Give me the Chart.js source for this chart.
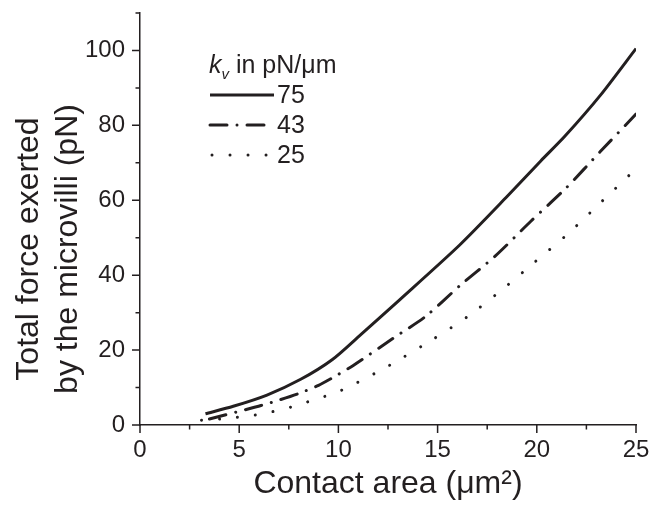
<!DOCTYPE html>
<html><head><meta charset="utf-8">
<script src="https://cdn.jsdelivr.net/npm/chart.js@4/dist/chart.umd.min.js"></script>
<style>html,body{margin:0;padding:0;background:#fff;}</style>
</head><body>
<canvas id="c" width="665" height="509"></canvas>
<script>
// ---- data ----
const seriesLabels = ['75', '43', '25'];
const x75 = [3.3, 4.7, 6.4, 8.1, 9.7, 11.1, 13.1, 16.1, 18.5, 20.2, 21.4, 23.2, 25.0];
const y75 = [3.0, 5.0, 8.0, 12.2, 17.5, 24.0, 33.5, 48.0, 61.0, 70.5, 77.0, 88.0, 100.5];
const x43 = [3.5, 5.4, 6.1, 7.1, 8.0, 9.0, 9.7, 10.75, 12.8, 14.4, 16.1, 17.9, 19.7, 21.5, 23.2, 25.0];
const y43 = [1.6, 4.2, 5.2, 6.8, 8.4, 10.6, 12.6, 15.9, 23.3, 29.0, 37.1, 45.1, 54.4, 63.4, 73.0, 83.0];
const x25 = [3.1, 4.5, 5.4, 6.2, 7.1, 7.9, 8.8, 9.7, 10.5, 12.6, 14.8, 16.5, 18.2, 19.9, 21.6, 23.3, 25.0];
const y25 = [1.3, 1.8, 2.4, 3.0, 4.1, 5.2, 6.8, 8.3, 10.1, 16.0, 23.0, 28.9, 35.9, 43.5, 51.2, 59.8, 68.4];
const xMajorTicks = [0, 5, 10, 15, 20, 25];
const xMinorTicks = [2.5, 7.5, 12.5, 17.5, 22.5];
const yMajorTicks = [0, 20, 40, 60, 80, 100];
const yMinorTicks = [10, 30, 50, 70, 90, 110];
const xTitle = 'Contact area (\u03bcm\u00b2)';
const yTitleLines = ['Total force exerted', 'by the microvilli (pN)'];
const legendHeaderK = 'k';
const legendHeaderSub = 'v';
const legendHeaderRest = ' in pN/\u03bcm';

const FONT = "'Liberation Sans', Arial, Helvetica, sans-serif";
const INK = '#231f20';

function pts(xs, ys) { return xs.map((x, i) => ({x: x, y: ys[i]})); }

const dashStyles = [[], [17, 10, 0.01, 10], [0.01, 18]];

const ticksPlugin = {
  id: 'ticksPlugin',
  afterDraw(chart) {
    const ctx = chart.ctx, xs = chart.scales.x, ys = chart.scales.y;
    const a = chart.chartArea;
    ctx.save();
    ctx.strokeStyle = INK; ctx.lineWidth = 1.5; ctx.lineCap = 'butt';
    ctx.beginPath();
    xMajorTicks.forEach(v => { const p = xs.getPixelForValue(v); ctx.moveTo(p, a.bottom); ctx.lineTo(p, a.bottom + 8); });
    xMinorTicks.forEach(v => { const p = xs.getPixelForValue(v); ctx.moveTo(p, a.bottom); ctx.lineTo(p, a.bottom + 4.5); });
    yMajorTicks.forEach(v => { const p = ys.getPixelForValue(v); ctx.moveTo(a.left, p); ctx.lineTo(a.left - 8, p); });
    yMinorTicks.forEach(v => { const p = ys.getPixelForValue(v); ctx.moveTo(a.left, p); ctx.lineTo(a.left - 4.5, p); });
    ctx.stroke();

    // y axis title (two lines, rotated)
    ctx.fillStyle = INK;
    ctx.font = '32px ' + FONT;
    ctx.textAlign = 'center';
    ctx.textBaseline = 'alphabetic';
    ctx.translate(0, 249);
    ctx.rotate(-Math.PI / 2);
    ctx.fillText(yTitleLines[0], 0, 38);
    ctx.fillText(yTitleLines[1], 0, 77);
    ctx.restore();

    // legend
    ctx.save();
    ctx.fillStyle = INK;
    ctx.textBaseline = 'alphabetic';
    ctx.textAlign = 'left';
    let hx = 209, hy = 73;
    ctx.font = 'italic 25px ' + FONT;
    ctx.fillText(legendHeaderK, hx, hy);
    hx += ctx.measureText(legendHeaderK).width;
    ctx.font = 'italic 15px ' + FONT;
    ctx.fillText(legendHeaderSub, hx, hy + 6);
    hx += ctx.measureText(legendHeaderSub).width;
    ctx.font = '25px ' + FONT;
    ctx.fillText(legendHeaderRest, hx, hy);
    const rows = [95, 125, 155];
    chart.data.datasets.forEach((ds, i) => {
      const y = rows[i];
      ctx.save();
      ctx.strokeStyle = ds.borderColor;
      ctx.lineWidth = ds.borderWidth;
      ctx.lineCap = i === 0 ? 'butt' : 'round';
      ctx.setLineDash(ds.borderDash || []);
      ctx.beginPath();
      ctx.moveTo(i === 2 ? 212 : 210, y);
      ctx.lineTo(274, y);
      ctx.stroke();
      ctx.restore();
      ctx.font = '25px ' + FONT;
      ctx.textBaseline = 'middle';
      ctx.fillText(ds.label, 277, y + 1);
    });
    ctx.restore();
  }
};

new Chart(document.getElementById('c'), {
  type: 'line',
  data: {
    datasets: [
      {label: seriesLabels[0], data: pts(x75, y75), borderDash: dashStyles[0]},
      {label: seriesLabels[1], data: pts(x43, y43), borderDash: dashStyles[1]},
      {label: seriesLabels[2], data: pts(x25, y25), borderDash: dashStyles[2]}
    ].map((d, i) => Object.assign(d, {
      borderColor: INK, borderWidth: 3, pointRadius: 0, tension: 0.25, fill: false,
      borderCapStyle: i === 0 ? 'butt' : 'round', borderJoinStyle: 'round'
    }))
  },
  options: {
    responsive: false,
    animation: false,
    devicePixelRatio: 1,
    layout: {padding: {left: 0, right: 29, top: 13, bottom: 0}},
    plugins: {legend: {display: false}, tooltip: {enabled: false}},
    scales: {
      x: {
        type: 'linear', min: 0, max: 25,
        afterBuildTicks: s => { s.ticks = xMajorTicks.map(v => ({value: v})); },
        afterFit: s => { s.height = 84; s.paddingLeft = 0; s.paddingRight = 0; },
        grid: {drawOnChartArea: false, drawTicks: false},
        border: {display: true, color: INK, width: 1.5},
        ticks: {color: INK, padding: 13, maxRotation: 0, font: {family: FONT, size: 24, lineHeight: 1}},
        title: {display: true, text: xTitle, color: INK, font: {family: FONT, size: 32, lineHeight: 1.2}, padding: {top: 0, bottom: 6}}
      },
      y: {
        type: 'linear', min: 0, max: 110,
        afterBuildTicks: s => { s.ticks = yMajorTicks.map(v => ({value: v})); },
        afterFit: s => { s.width = 140; s.paddingTop = 0; s.paddingBottom = 0; },
        grid: {drawOnChartArea: false, drawTicks: false},
        border: {display: true, color: INK, width: 1.5},
        ticks: {color: INK, padding: 15, font: {family: FONT, size: 24, lineHeight: 1}}
      }
    }
  },
  plugins: [ticksPlugin]
});
</script>
</body></html>
